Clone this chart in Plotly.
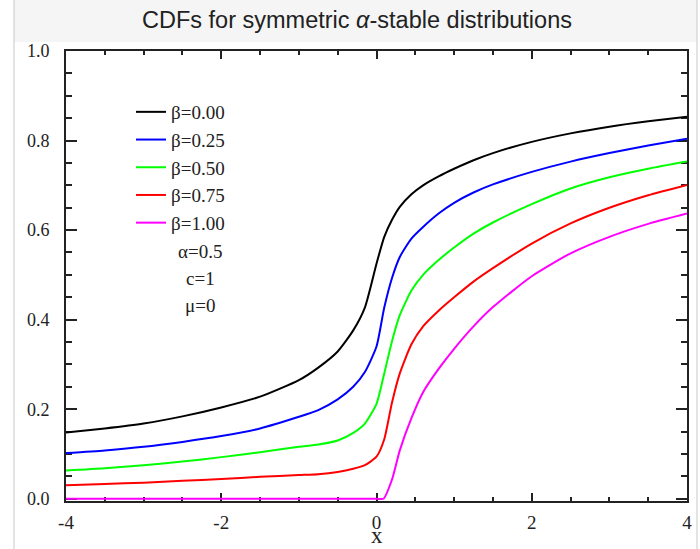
import plotly.graph_objects as go

# values
X = [-4, -3.5, -3, -2.5, -2, -1.5, -1, -0.75, -0.5, -0.3, -0.15, 0, 0.1, 0.2,
     0.3, 0.45, 0.6, 0.8, 1, 1.25, 1.5, 2, 2.5, 3, 3.5, 4]

CDF_B000 = [0.148, 0.157, 0.168, 0.184, 0.204, 0.228, 0.265, 0.293, 0.329, 0.376,
            0.427, 0.525, 0.585, 0.623, 0.652, 0.680, 0.700, 0.720, 0.737, 0.756,
            0.772, 0.797, 0.816, 0.831, 0.843, 0.853]
CDF_B025 = [0.102, 0.108, 0.116, 0.127, 0.140, 0.157, 0.183, 0.198, 0.222, 0.250,
            0.283, 0.340, 0.427, 0.493, 0.540, 0.581, 0.607, 0.637, 0.661, 0.684,
            0.702, 0.730, 0.753, 0.772, 0.789, 0.804]
CDF_B050 = [0.063, 0.068, 0.075, 0.083, 0.093, 0.104, 0.116, 0.121, 0.130, 0.147,
            0.168, 0.212, 0.280, 0.352, 0.410, 0.465, 0.500, 0.533, 0.561, 0.592,
            0.617, 0.658, 0.693, 0.718, 0.737, 0.753]
CDF_B075 = [0.030, 0.033, 0.036, 0.040, 0.044, 0.049, 0.053, 0.055, 0.060, 0.067,
            0.075, 0.094, 0.133, 0.215, 0.280, 0.345, 0.385, 0.420, 0.450, 0.485,
            0.515, 0.570, 0.615, 0.650, 0.678, 0.701]

X_B100 = [-4, -3, -2, -1, -0.5, -0.2, 0, 0.09, 0.2, 0.3, 0.45, 0.6, 0.8, 1,
          1.25, 1.5, 2, 2.5, 3, 3.5, 4]
CDF_B100 = [0.0, 0.0, 0.0, 0.0, 0.0, 0.0, 0.0, 0.0, 0.043, 0.108, 0.180, 0.238,
            0.290, 0.335, 0.385, 0.428, 0.497, 0.548, 0.585, 0.614, 0.637]

SERIES = [
    ("β=0.00", X, CDF_B000, "#000000"),
    ("β=0.25", X, CDF_B025, "#0000ff"),
    ("β=0.50", X, CDF_B050, "#00ff00"),
    ("β=0.75", X, CDF_B075, "#ff0000"),
    ("β=1.00", X_B100, CDF_B100, "#ff00ff"),
]
PARAMS = ["α=0.5", "c=1", "μ=0"]
X_TICKS = [-4, -2, 0, 2, 4]
X_TICKTEXT = ["-4", "-2", "0", "2", "4"]
X_TITLE = "x"

SERIF = "Liberation Serif"
AXIS_COLOR = "#222222"
TEXT_COLOR = "#222222"

fig = go.Figure()
for name, xs, ys, color in SERIES:
    fig.add_trace(go.Scatter(
        x=xs, y=ys, name=name, mode="lines",
        line=dict(color=color, width=2, shape="spline", smoothing=0.6),
    ))

# parameter notes under the legend
for i, txt in enumerate(PARAMS):
    fig.add_annotation(
        x=-2.27, y=0.552 - 0.06 * i, text=txt, showarrow=False,
        font=dict(family=SERIF, size=19, color=TEXT_COLOR),
    )

# x-axis title sits low, under the tick labels
fig.add_annotation(
    x=0, xref="x", y=(501 - 549) / 450, yref="paper", yanchor="bottom",
    text=X_TITLE, showarrow=False, borderpad=0,
    font=dict(family=SERIF, size=23, color=TEXT_COLOR),
)

# grey header band and side rules of the page the chart sat on
fig.add_shape(type="rect", xref="paper", yref="paper",
              x0=(14 - 66) / 621, x1=(697 - 66) / 621,
              y0=(501 - 42) / 450, y1=(501 + 2) / 450,
              fillcolor="#f5f5f5", line=dict(width=0), layer="below")
for px in (14, 697):
    fig.add_shape(type="line", xref="paper", yref="paper",
                  x0=(px - 66) / 621, x1=(px - 66) / 621,
                  y0=-0.2, y1=1.2, line=dict(color="#c8c8c8", width=1))

fig.update_layout(
    width=700, height=549,
    margin=dict(l=66, r=13, t=51, b=48),
    paper_bgcolor="white",
    plot_bgcolor="white",
    title=dict(
        text="CDFs for symmetric <i>α</i>-stable distributions",
        font=dict(family="Liberation Sans", size=23.5, color=TEXT_COLOR),
        xref="container", x=357 / 700, xanchor="center",
        yref="container", y=1 - 20 / 549, yanchor="middle",
    ),
    legend=dict(
        x=(131 - 66) / 621, xanchor="left",
        y=(501 - 93) / 450, yanchor="top",
        bgcolor="rgba(0,0,0,0)",
        font=dict(family=SERIF, size=19, color=TEXT_COLOR),
        tracegroupgap=0,
    ),
    showlegend=True,
)

fig.update_xaxes(
    range=[-4, 4], tickvals=X_TICKS, ticktext=X_TICKTEXT,
    ticks="inside", ticklen=8, tickwidth=1.5, tickcolor=AXIS_COLOR,
    minor=dict(dtick=0.5, ticks="inside", ticklen=4, tickwidth=1.5, tickcolor=AXIS_COLOR),
    showline=True, linecolor=AXIS_COLOR, linewidth=2, mirror="allticks",
    showgrid=False, zeroline=False, layer="below traces", automargin=False,
    tickfont=dict(family=SERIF, size=19, color=TEXT_COLOR),
    ticklabelstandoff=3,
)
fig.update_yaxes(
    range=[-0.005, 1.0], tickvals=[0, 0.2, 0.4, 0.6, 0.8, 1.0], tickformat=".1f",
    ticks="inside", ticklen=11, tickwidth=1.5, tickcolor=AXIS_COLOR,
    minor=dict(dtick=0.05, ticks="inside", ticklen=6, tickwidth=1.5, tickcolor=AXIS_COLOR),
    showline=True, linecolor=AXIS_COLOR, linewidth=2, mirror="allticks",
    showgrid=False, zeroline=False, layer="below traces", automargin=False,
    tickfont=dict(family=SERIF, size=18, color=TEXT_COLOR),
    ticklabelstandoff=11,
)

fig.write_html("out.html", config={"displayModeBar": False},
               post_script="document.body.style.margin='0';")
